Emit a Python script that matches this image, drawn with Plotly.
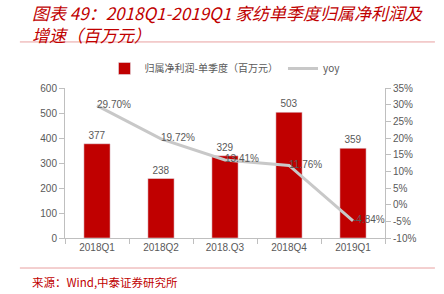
import plotly.graph_objects as go

categories = ["2018Q1", "2018Q2", "2018.Q3", "2018Q4", "2019Q1"]
profit = [377, 238, 329, 503, 359]
yoy = [29.70, 19.72, 13.41, 11.76, -4.84]
yoy_labels = ["29.70%", "19.72%", "13.41%", "11.76%", "-4.84%"]
left_ticks = [0, 100, 200, 300, 400, 500, 600]
right_ticks = [-10, -5, 0, 5, 10, 15, 20, 25, 30, 35]
right_tick_labels = ["-10%", "-5%", "0%", "5%", "10%", "15%", "20%", "25%", "30%", "35%"]

RED = "#c00000"
GRAY_TXT = "#595959"
AX = "#bfbfbf"
FONT = "Liberation Sans, Noto Sans CJK SC, sans-serif"
CJK = "Noto Sans CJK SC, sans-serif"

fig = go.Figure()
fig.add_trace(go.Bar(
    x=categories, y=profit, name="归属净利润-单季度（百万元）",
    marker_color=RED, width=0.41,
    text=[str(v) for v in profit], textposition="outside",
    textfont=dict(size=10, color=GRAY_TXT, family=FONT),
    cliponaxis=False,
))
fig.add_trace(go.Scatter(
    x=categories, y=yoy, name="yoy", yaxis="y2", mode="lines+text",
    line=dict(color="#c8c8c8", width=3),
    text=yoy_labels, textposition="middle right",
    textfont=dict(size=10, color=GRAY_TXT, family=FONT),
    cliponaxis=False,
))

fig.update_layout(
    width=444, height=294,
    margin=dict(l=65, r=59, t=88, b=56),
    paper_bgcolor="white", plot_bgcolor="white",
    font=dict(family=FONT, size=10, color=GRAY_TXT),
    showlegend=True,
    legend=dict(orientation="h", x=0.5, xanchor="center", y=1.13, yanchor="middle",
                font=dict(size=10, color=GRAY_TXT, family=CJK),
                itemwidth=30, tracegroupgap=0),
    xaxis=dict(showline=True, linecolor=AX, linewidth=1, ticks="outside",
               tickcolor=AX, ticklen=5, tickson="boundaries",
               tickfont=dict(size=10, color=GRAY_TXT), showgrid=False),
    yaxis=dict(range=[0, 600], tickvals=left_ticks, showline=True, linecolor=AX,
               ticks="outside", tickcolor=AX, ticklen=5, showgrid=False, zeroline=False,
               tickfont=dict(size=10, color=GRAY_TXT)),
    yaxis2=dict(range=[-10, 35], tickvals=right_ticks, ticktext=right_tick_labels,
                overlaying="y", side="right", showline=True, linecolor=AX,
                ticks="outside", tickcolor=AX, ticklen=5, showgrid=False, zeroline=False,
                tickfont=dict(size=10, color=GRAY_TXT)),
)

fig.add_annotation(
    xref="paper", yref="paper", x=-0.11, y=1.6, xanchor="left", yanchor="top",
    showarrow=False, align="left",
    text="<i>图表 49：2018Q1-2019Q1 家纺单季度归属净利润及<br>增速（百万元）</i>",
    font=dict(size=17, color=RED, family=CJK),
)
fig.add_shape(type="line", xref="paper", yref="paper", x0=-0.141, x1=1.156,
              y0=1.307, y1=1.307, line=dict(color="#e8a0a0", width=1))
fig.add_shape(type="line", xref="paper", yref="paper", x0=-0.141, x1=1.156,
              y0=-0.2, y1=-0.2, line=dict(color="#e8a0a0", width=1))
fig.add_annotation(
    xref="paper", yref="paper", x=-0.11, y=-0.293, xanchor="left", yanchor="middle",
    showarrow=False, text="来源：Wind,中泰证券研究所",
    font=dict(size=11.5, color=RED, family=CJK),
)

fig.write_html("out.html")
